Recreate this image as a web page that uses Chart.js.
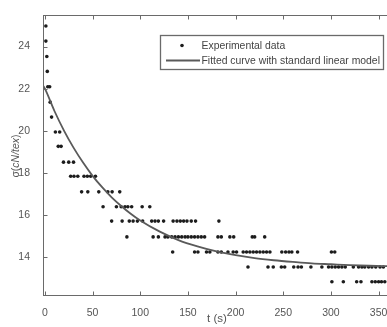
<!DOCTYPE html>
<html>
<head>
<meta charset="utf-8">
<script src="https://cdn.jsdelivr.net/npm/chart.js@4"></script>
<style>
  body { margin: 0; overflow: hidden; background: #fff; }
</style>
</head>
<body>
<canvas id="chart" width="395" height="327"></canvas>
<script>
// measured stress levels (cN/tex) and the times (s) at which each level was recorded
const stressLevels = [24.98, 24.26, 23.53, 22.82, 22.09, 21.36, 20.65, 19.94, 19.26,
  18.51, 17.84, 17.10, 16.39, 15.71, 14.96, 14.24, 13.53, 12.83];
const timesAtLevel = [
  [1],
  [1],
  [2],
  [2.5],
  [3, 5],
  [5.5],
  [7],
  [11, 15.5],
  [14, 17],
  [19.5, 25, 30],
  [27, 30.5, 34.5, 41, 44.5, 48, 53],
  [38.5, 45, 56.5, 66, 70.5, 78.5],
  [61, 75, 80, 84, 87, 91, 102, 110],
  [70, 81, 88.5, 92.5, 97, 102.5, 112, 115.5, 119, 124.5, 134.5, 138.5, 142, 145.5, 149, 153.5, 158, 182.5],
  [86, 113.5, 119, 126, 129, 133, 136.5, 140, 143.5, 147, 150, 153.5, 157, 160.5, 164, 167.5, 181.5, 185, 194, 198, 217.5, 220, 230.5],
  [134, 157, 160.5, 169.5, 173, 181.5, 185, 192, 197.5, 201, 208, 211.5, 215, 218.5, 222, 225.5, 229, 232.5, 236, 248.5, 252.5, 256, 259, 265, 300.5, 304],
  [213, 234, 239.5, 248, 251.5, 261, 265.5, 269, 279, 290.5, 297.5, 301, 304.5, 308, 311.5, 315, 323.5, 329, 332.5, 335.5, 339.5, 343, 347, 351.5, 355],
  [301, 313, 327, 331.5, 343, 346.5, 350, 353, 356.5]
];

// fitted curve
const fitT = [-2, 0, 10, 20, 30, 40, 50, 60, 70, 80, 90, 100, 120, 140, 160, 180, 200, 220, 240, 260, 280, 300, 320, 340, 363];
const fitS = [22.15, 22.0, 20.94, 20.01, 19.2, 18.49, 17.86, 17.32, 16.84, 16.43, 16.06, 15.74, 15.22, 14.81, 14.51, 14.27, 14.09, 13.95, 13.85, 13.77, 13.7, 13.66, 13.62, 13.59, 13.57];

const xTicks = [0, 50, 100, 150, 200, 250, 300, 350];
const yTicks = [14, 16, 18, 20, 22, 24];
const legendLabels = ['Experimental data', 'Fitted curve with standard linear model'];

const frameColor = '#6a6a6a';
const textColor = '#555';
const dotColor = '#1c1c1c';
const curveColor = '#5a5a5a';
const fontFamily = '"Liberation Sans", Arial, sans-serif';

const expPoints = [];
stressLevels.forEach((s, i) => {
  timesAtLevel[i].forEach(t => expPoints.push({x: t, y: s}));
});
const fitPoints = fitT.map((t, i) => ({x: t, y: fitS[i]}));

const decor = {
  id: 'decor',
  afterDraw(chart) {
    const {ctx, chartArea: a} = chart;
    const xs = chart.scales.x, ys = chart.scales.y;
    ctx.save();

    // box and inward ticks
    ctx.strokeStyle = frameColor;
    ctx.lineWidth = 1;
    const L = Math.round(a.left) + 0.5, T = Math.round(a.top) + 0.5;
    const R = Math.round(a.right) + 0.5, B = Math.round(a.bottom) + 0.5;
    ctx.strokeRect(L, T, R - L, B - T);
    ctx.beginPath();
    xTicks.forEach(v => {
      const px = Math.round(xs.getPixelForValue(v)) + 0.5;
      ctx.moveTo(px, B); ctx.lineTo(px, B - 4);
      ctx.moveTo(px, T); ctx.lineTo(px, T + 4);
    });
    yTicks.forEach(v => {
      const py = Math.round(ys.getPixelForValue(v)) + 0.5;
      ctx.moveTo(L, py); ctx.lineTo(L + 4, py);
      ctx.moveTo(R, py); ctx.lineTo(R - 4, py);
    });
    ctx.stroke();

    // y axis title: σ(cN/tex) with italic unit
    const parts = [['σ(', ''], ['cN/tex', 'italic '], [')', '']];
    const tf = '10.5px ' + fontFamily;
    let total = 0;
    parts.forEach(p => { ctx.font = p[1] + tf; total += ctx.measureText(p[0]).width; });
    ctx.save();
    ctx.translate(16, 156);
    ctx.rotate(-Math.PI / 2);
    ctx.fillStyle = textColor;
    ctx.textBaseline = 'middle';
    let cx = -total / 2;
    parts.forEach(p => {
      ctx.font = p[1] + tf;
      ctx.fillText(p[0], cx, 0);
      cx += ctx.measureText(p[0]).width;
    });
    ctx.restore();

    // legend box
    const bx = 160.5, by = 35.5, bw = 223, bh = 34;
    ctx.fillStyle = '#fff';
    ctx.fillRect(bx, by, bw, bh);
    ctx.lineWidth = 1.3;
    ctx.strokeStyle = frameColor;
    ctx.strokeRect(bx, by, bw, bh);

    ctx.fillStyle = dotColor;
    ctx.beginPath();
    ctx.arc(182, 45.5, 1.8, 0, Math.PI * 2);
    ctx.fill();

    ctx.strokeStyle = curveColor;
    ctx.lineWidth = 1.8;
    ctx.beginPath();
    ctx.moveTo(166, 60.5); ctx.lineTo(200, 60.5);
    ctx.stroke();

    ctx.font = '10.4px ' + fontFamily;
    ctx.fillStyle = '#444';
    ctx.textBaseline = 'middle';
    ctx.fillText(legendLabels[0], 201.5, 46);
    ctx.fillText(legendLabels[1], 201.5, 61);
    ctx.restore();
  }
};

new Chart(document.getElementById('chart'), {
  data: {
    datasets: [
      {
        type: 'scatter',
        label: legendLabels[0],
        data: expPoints,
        pointRadius: 1.8,
        pointBorderWidth: 0,
        pointBackgroundColor: dotColor,
        order: 2
      },
      {
        type: 'line',
        label: legendLabels[1],
        data: fitPoints,
        borderColor: curveColor,
        borderWidth: 1.8,
        pointRadius: 0,
        fill: false,
        cubicInterpolationMode: 'monotone',
        order: 1
      }
    ]
  },
  options: {
    responsive: false,
    animation: false,
    events: [],
    layout: { padding: { top: 15, right: 4, left: 0, bottom: 0 } },
    plugins: { legend: { display: false }, tooltip: { enabled: false } },
    scales: {
      x: {
        type: 'linear',
        min: -2,
        max: 363,
        grid: { display: false },
        border: { display: false },
        afterBuildTicks: s => { s.ticks = xTicks.map(v => ({value: v})); },
        afterFit: s => { s.height = 32; },
        ticks: { color: textColor, padding: 4, maxRotation: 0, font: { family: fontFamily, size: 10.5 } },
        title: {
          display: true, text: 't (s)', color: textColor,
          padding: { top: 0, bottom: 1 },
          font: { family: fontFamily, size: 11.5 }
        }
      },
      y: {
        type: 'linear',
        min: 12.2,
        max: 25.5,
        grid: { display: false },
        border: { display: false },
        afterBuildTicks: s => { s.ticks = yTicks.map(v => ({value: v})); },
        afterFit: s => { s.width = 43; },
        ticks: { color: textColor, padding: 5, font: { family: fontFamily, size: 10.5 } }
      }
    }
  },
  plugins: [decor]
});
</script>
</body>
</html>
